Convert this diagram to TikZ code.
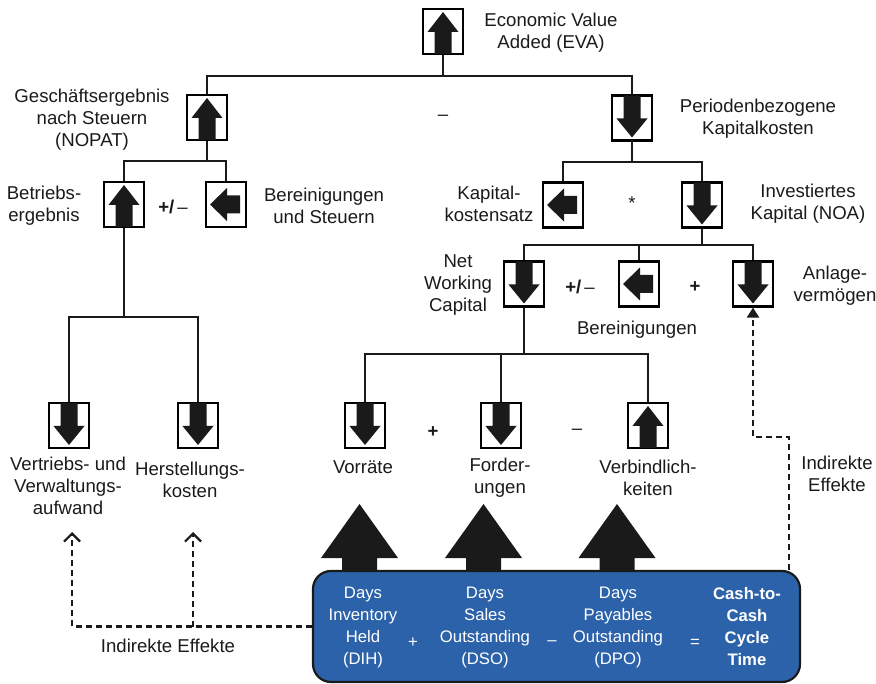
\documentclass[tikz,border=0pt]{standalone}
\usepackage{fontspec}
\setmainfont{Liberation Sans}
\usetikzlibrary{arrows.meta}
\definecolor{ink}{RGB}{26,26,26}
\definecolor{cccblue}{RGB}{44,98,170}

\tikzset{
  every node/.style={font=\fontsize{18.6}{22}\selectfont, inner sep=0pt, text=ink},
  kbox/.style={draw=black, line width=2.2pt, minimum width=40pt, minimum height=45pt, inner sep=0pt},
  lab/.style={align=center},
  tree/.style={draw=ink, line width=2.6pt},
  indirect/.style={draw=ink, line width=2.2pt, dash pattern=on 6pt off 4pt},
  btxt/.style={align=center, text=white, font=\fontsize{16.7}{22}\selectfont},
  uparr/.pic={\fill[ink] (0,-19.5) -- (15.5,0.5) -- (8.5,0.5) -- (8.5,22.5) -- (-8.5,22.5) -- (-8.5,0.5) -- (-15.5,0.5) -- cycle;},
  downarr/.pic={\fill[ink] (0,19.5) -- (15.5,0.5) -- (8.5,0.5) -- (8.5,-22.5) -- (-8.5,-22.5) -- (-8.5,0.5) -- (-15.5,0.5) -- cycle;},
  leftarr/.pic={\fill[ink] (-16,0) -- (1,-16.5) -- (1,-9) -- (14,-9) -- (14,9) -- (1,9) -- (1,16.5) -- cycle;},
  bigup/.pic={\fill[ink] (0,-67) -- (38.5,-13) -- (17.5,-13) -- (17.5,2) -- (-17.5,2) -- (-17.5,-13) -- (-38.5,-13) -- cycle;}
}

\begin{document}
\begin{tikzpicture}[x=1pt,y=-1pt]
\useasboundingbox (0,0) rectangle (876,684);

% value driver boxes
\node[kbox] (eva)  at (443,31.5) {};
\node[kbox] (nopat) at (207,117.5) {};
\node[kbox] (kk)   at (632,118) {};
\node[kbox] (betr) at (124,204.5) {};
\node[kbox] (bst)  at (226,204.5) {};
\node[kbox] (kks)  at (563,205) {};
\node[kbox] (noa)  at (702,205) {};
\node[kbox] (nwc)  at (524,284) {};
\node[kbox] (ber)  at (639,284) {};
\node[kbox] (anl)  at (753,284) {};
\node[kbox] (vva)  at (69,425.5) {};
\node[kbox] (hk)   at (198,425.5) {};
\node[kbox] (vor)  at (365,425.5) {};
\node[kbox] (ford) at (501,425.5) {};
\node[kbox] (verb) at (648,425.5) {};

% direction arrows inside the boxes
\path (eva.center) pic {uparr};
\path (nopat.center) pic {uparr};
\path (kk.center) pic {downarr};
\path (betr.center) pic {uparr};
\path (bst.center) pic {leftarr};
\path (kks.center) pic {leftarr};
\path (noa.center) pic {downarr};
\path (nwc.center) pic {downarr};
\path (ber.center) pic {leftarr};
\path (anl.center) pic {downarr};
\path (vva.center) pic {downarr};
\path (hk.center) pic {downarr};
\path (vor.center) pic {downarr};
\path (ford.center) pic {downarr};
\path (verb.center) pic {uparr};

% tree connectors
\coordinate (j1) at (443,76);
\coordinate (j2) at (207,161);
\coordinate (j3) at (632,162);
\coordinate (j4) at (124,317);
\coordinate (j5) at (702,245);
\coordinate (j6) at (524,354);
\draw[tree] (eva.south) -- (j1);
\draw[tree] (nopat.north) |- (j1) -| (kk.north);
\draw[tree] (nopat.south) -- (j2);
\draw[tree] (betr.north) |- (j2) -| (bst.north);
\draw[tree] (kk.south) -- (j3);
\draw[tree] (kks.north) |- (j3) -| (noa.north);
\draw[tree] (betr.south) -- (j4);
\draw[tree] (vva.north) |- (j4) -| (hk.north);
\draw[tree] (noa.south) -- (j5);
\draw[tree] (nwc.north) |- (j5) -| (anl.north);
\draw[tree] (ber.north) -- (ber.north |- j5);
\draw[tree] (nwc.south) -- (j6);
\draw[tree] (vor.north) |- (j6) -| (verb.north);
\draw[tree] (ford.north) -- (ford.north |- j6);

% labels
\node[lab] (leva) at (551,33) {Economic Value\\Added (EVA)};
\node[lab] (lnopat) at (92,120) {Geschäftsergebnis\\nach Steuern\\(NOPAT)};
\node[lab] (lkk) at (758,119) {Periodenbezogene\\Kapitalkosten};
\node (minus1) at (443,118) {–};
\node[lab] (lbetr) at (44,206) {Betriebs-\\ergebnis};
\node (op1) at (173,207) {\textbf{+/}\,–};
\node[lab] (lbst) at (324,206) {Bereinigungen\\und Steuern};
\node[lab] (lkks) at (489,204) {Kapital-\\kostensatz};
\node (op2) at (632,203) {*};
\node[lab] (lnoa) at (808,204) {Investiertes\\Kapital (NOA)};
\node[lab] (lnwc) at (458,285) {Net\\Working\\Capital};
\node (op3) at (580,287) {\textbf{+/}\,–};
\node (op4) at (695,287) {\textbf{+}};
\node[lab] (lber) at (637,330) {Bereinigungen};
\node[lab] (lanl) at (835,286) {Anlage-\\vermögen};
\node[lab] (lvva) at (68,486) {Vertriebs- und\\Verwaltungs-\\aufwand};
\node[lab] (lhk) at (190,480) {Herstellungs-\\kosten};
\node[lab] (lvor) at (363,467) {Vorräte};
\node (op5) at (433,432) {\textbf{+}};
\node[lab] (lford) at (500,478) {Forder-\\ungen};
\node (op6) at (577,432) {–};
\node[lab] (lverb) at (648,478) {Verbindlich-\\keiten};

% big arrows from the cycle components
\path (359.5,571) pic {bigup};
\path (483.5,571) pic {bigup};
\path (617,571) pic {bigup};

% cash-to-cash cycle box
\node[draw=ink, line width=2.2pt, fill=cccblue, rounded corners=18pt,
      minimum width=487pt, minimum height=111pt] (ccc) at (556.5,626.5) {};
\node[btxt] (dih) at (363,627) {Days\\Inventory\\Held\\(DIH)};
\node[btxt] (bp) at (413,643) {+};
\node[btxt] (dso) at (485,627) {Days\\Sales\\Outstanding\\(DSO)};
\node[btxt] (bm) at (552,643) {–};
\node[btxt] (dpo) at (618,627) {Days\\Payables\\Outstanding\\(DPO)};
\node[btxt] (be) at (695,643) {=};
\node[btxt, font=\fontsize{16.7}{22}\selectfont\bfseries] (cct) at (747,627) {Cash-to-\\Cash\\Cycle\\Time};

% indirect effects
\coordinate (ia) at (72,532);
\coordinate (ib) at (193,532);
\draw[indirect, -{Straight Barb[length=8pt,width=16pt,line width=2.2pt]}] (ccc.west) -| (ia);
\draw[indirect, -{Straight Barb[length=8pt,width=16pt,line width=2.2pt]}] (ccc.west -| ib) -- (ib);
\draw[indirect, -{Triangle[length=10pt,width=12pt]}] ([xshift=-12pt]ccc.north east) -- ++(0,-133) -| (anl.south);
\node[lab] (lind1) at (168,646) {Indirekte Effekte};
\node[lab] (lind2) at (837,474) {Indirekte\\Effekte};
\end{tikzpicture}
\end{document}
